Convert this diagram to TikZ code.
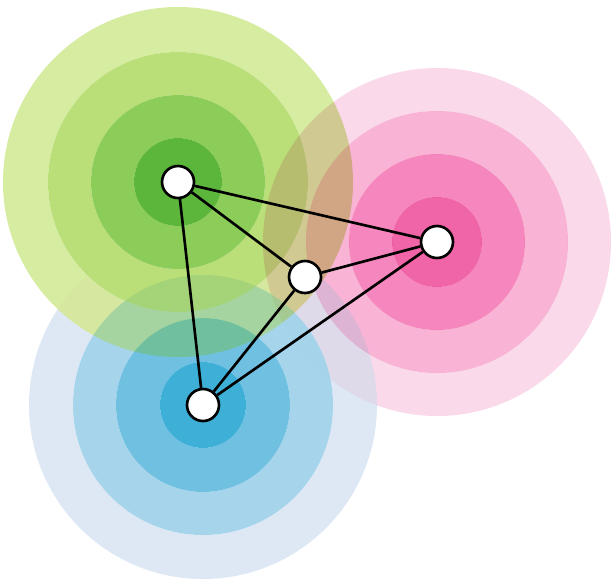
\documentclass[tikz,border=0pt]{standalone}
\usepackage{xcolor}
\usepackage{tikz}
\definecolor{blueA}{RGB}{222,232,245}
\definecolor{blueB}{RGB}{165,212,235}
\definecolor{blueC}{RGB}{112,192,226}
\definecolor{blueD}{RGB}{62,176,216}
\definecolor{pinkA}{RGB}{250,218,234}
\definecolor{pinkB}{RGB}{249,180,213}
\definecolor{pinkC}{RGB}{246,135,190}
\definecolor{pinkD}{RGB}{240,100,168}
\definecolor{greenA}{RGB}{214,236,160}
\definecolor{greenB}{RGB}{186,222,120}
\definecolor{greenC}{RGB}{140,204,88}
\definecolor{greenD}{RGB}{92,182,60}
\tikzstyle{spot} = [circle, draw=black, fill=white, line width=1.5pt,
minimum size=0.64cm, inner sep=0pt]
\tikzstyle{link} = [draw=black, line width=1.5pt]

\begin{document}
\begin{tikzpicture}[x=0.02cm, y=-0.02cm]
        \useasboundingbox (0,0) rectangle (611,583);
        % rings
        \foreach \ro/\ri/\c in {175/130/greenA,130/87/greenB,87/44/greenC,44/0/greenD}
            \fill[\c, even odd rule] (178,182) circle [radius=\ro*0.02cm]
                circle [radius=\ri*0.02cm];
        \begin{scope}[blend mode=multiply]
        \foreach \ro/\ri/\c in {174/131/pinkA,131/88/pinkB,88/45/pinkC,45/0/pinkD}
            \fill[\c, even odd rule] (437,242) circle [radius=\ro*0.02cm]
                circle [radius=\ri*0.02cm];
        \end{scope}
        \begin{scope}[blend mode=darken]
        \foreach \ro/\ri/\c in {174/130/blueA,130/87/blueB,87/43/blueC,43/0/blueD}
            \fill[\c, even odd rule] (203,405) circle [radius=\ro*0.02cm]
                circle [radius=\ri*0.02cm];
        \end{scope}
        % nodes
        \node[spot] (green) at (178,182) {};
        \node[spot] (pink) at (437,242) {};
        \node[spot] (blue) at (203,405) {};
        \node[spot] (mid) at (305,277) {};
        \draw[link] (green) -- (pink);
        \draw[link] (green) -- (mid);
        \draw[link] (green) -- (blue);
        \draw[link] (mid) -- (pink);
        \draw[link] (mid) -- (blue);
        \draw[link] (blue) -- (pink);
    \end{tikzpicture}
\end{document}
